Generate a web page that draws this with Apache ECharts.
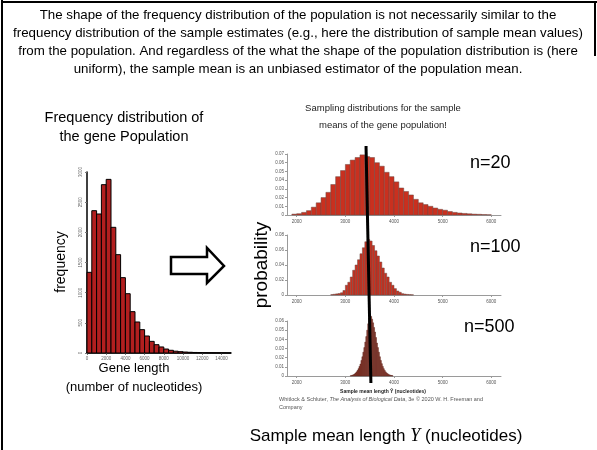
<!DOCTYPE html>
<html>
<head>
<meta charset="utf-8">
<script src="https://cdn.jsdelivr.net/npm/echarts@6/dist/echarts.min.js"></script>
<style>
  html, body { margin: 0; padding: 0; background: #fff; }
  #chart { width: 597px; height: 450px; }
</style>
</head>
<body>
<div id="chart"></div>
<script>
// population histogram: gene length, bins of 500 nucleotides starting at 0
const popBinWidth = 500;
const popCounts = [1337, 2359, 2304, 2790, 2878, 2083, 1630, 1249, 983, 685, 514, 387, 282, 193, 138,
  100, 66, 45, 30, 22, 16, 12, 9, 7, 5, 4, 3, 2, 2, 1];
const popXTicks = [0, 2000, 4000, 6000, 8000, 10000, 12000, 14000];

// sampling distributions of the mean
const n20Start = 1900, n20Width = 100;
const n20Probs = [0.001, 0.0015, 0.003, 0.005, 0.009, 0.014, 0.020, 0.026, 0.035, 0.044, 0.051,
  0.058, 0.063, 0.066, 0.069, 0.067, 0.066, 0.060, 0.056, 0.049, 0.044, 0.038, 0.031, 0.027,
  0.023, 0.018, 0.014, 0.012, 0.010, 0.008, 0.0065, 0.0055, 0.004, 0.003, 0.0023, 0.0018,
  0.0014, 0.001, 0.0008, 0.0005, 0.0003];

const n100Start = 2700, n100Width = 50;
const n100Probs = [0.0005, 0.001, 0.0015, 0.002, 0.003, 0.006, 0.013, 0.017, 0.024, 0.033, 0.040,
  0.047, 0.055, 0.063, 0.071, 0.074, 0.072, 0.066, 0.059, 0.052, 0.044, 0.036, 0.029, 0.024,
  0.017, 0.013, 0.0085, 0.0053, 0.0036, 0.0018, 0.0012, 0.0008, 0.0005, 0.0003];

const n500Start = 3100, n500Width = 20;
const n500Probs = [0.0003, 0.0006, 0.001, 0.0015, 0.0022, 0.0032, 0.0045, 0.006, 0.008, 0.0105,
  0.013, 0.017, 0.021, 0.026, 0.031, 0.037, 0.043, 0.050, 0.057, 0.063, 0.066, 0.065, 0.062,
  0.058, 0.053, 0.048, 0.042, 0.036, 0.031, 0.026, 0.021, 0.017, 0.0135, 0.0105, 0.008, 0.006,
  0.0045, 0.0033, 0.0024, 0.0017, 0.0012, 0.0008, 0.0005, 0.0003];

const sampleXTicks = [2000, 3000, 4000, 5000, 6000];
const populationMean = [3425, 3525]; // drawn line, top and bottom ends

const font = 'Liberation Sans, Arial, sans-serif';
const plain = v => String(v);

const toBins = (start, width, vals) => vals.map((v, i) => [start + i * width, v, width]);

function binRenderer(fill, stroke, lw) {
  return function (params, api) {
    const x0 = api.value(0), v = api.value(1), w = api.value(2);
    const p0 = api.coord([x0, 0]);
    const p1 = api.coord([x0 + w, v]);
    return {
      type: 'rect',
      shape: { x: p0[0], y: p1[1], width: p1[0] - p0[0], height: p0[1] - p1[1] },
      style: { fill: fill, stroke: stroke, lineWidth: lw }
    };
  };
}

function sampleX(gridIndex) {
  return {
    type: 'value', gridIndex: gridIndex, min: 1800, max: 6200,
    axisLine: { lineStyle: { color: '#9a9a9a', width: 1 } },
    axisTick: { show: true, length: 2, customValues: sampleXTicks, lineStyle: { color: '#9a9a9a' } },
    axisLabel: { customValues: sampleXTicks, formatter: plain, fontSize: 4.5, color: '#555', margin: 4, fontFamily: font },
    splitLine: { show: false }
  };
}

function sampleY(gridIndex, max, interval) {
  return {
    type: 'value', gridIndex: gridIndex, min: 0, max: max, interval: interval,
    axisLine: { show: true, lineStyle: { color: '#9a9a9a', width: 1 } },
    axisTick: { show: true, length: 2, lineStyle: { color: '#9a9a9a' } },
    axisLabel: { fontSize: 4.5, color: '#555', margin: 3, fontFamily: font },
    splitLine: { show: false }
  };
}

const chart = echarts.init(document.getElementById('chart'));

const option = {
  animation: false,
  backgroundColor: '#fff',
  grid: [
    { left: 87, top: 172, width: 144, height: 181 },
    { left: 287, top: 154, width: 214, height: 61 },
    { left: 287, top: 235, width: 214, height: 60 },
    { left: 287, top: 321, width: 214, height: 55 }
  ],
  xAxis: [
    {
      type: 'value', gridIndex: 0, min: 0, max: 15000,
      axisLine: { lineStyle: { color: '#000', width: 1.5 } },
      axisTick: { show: true, length: 2, customValues: popXTicks, lineStyle: { color: '#777' } },
      axisLabel: { customValues: popXTicks, formatter: plain, fontSize: 4.5, color: '#666', margin: 3, fontFamily: font },
      splitLine: { show: false }
    },
    sampleX(1), sampleX(2), sampleX(3)
  ],
  yAxis: [
    {
      type: 'value', gridIndex: 0, min: 0, max: 3000, interval: 500,
      axisLine: { show: true, lineStyle: { color: '#000', width: 1.5 } },
      axisTick: { show: true, length: 2, lineStyle: { color: '#777' } },
      axisLabel: { rotate: 90, formatter: plain, fontSize: 4.5, color: '#666', margin: 4, fontFamily: font },
      splitLine: { show: false }
    },
    sampleY(1, 0.07, 0.01), sampleY(2, 0.08, 0.02), sampleY(3, 0.06, 0.01)
  ],
  series: [
    {
      type: 'custom', xAxisIndex: 0, yAxisIndex: 0,
      renderItem: binRenderer('#b21f1f', '#000', 1),
      data: toBins(0, popBinWidth, popCounts)
    },
    {
      type: 'custom', xAxisIndex: 1, yAxisIndex: 1,
      renderItem: binRenderer('#c9301f', '#6b4a44', 0.5),
      data: toBins(n20Start, n20Width, n20Probs)
    },
    {
      type: 'custom', xAxisIndex: 2, yAxisIndex: 2,
      renderItem: binRenderer('#c9301f', '#6b4a44', 0.5),
      data: toBins(n100Start, n100Width, n100Probs)
    },
    {
      type: 'custom', xAxisIndex: 3, yAxisIndex: 3,
      renderItem: binRenderer('#9c2e1f', '#5a2a22', 0.5),
      data: toBins(n500Start, n500Width, n500Probs)
    }
  ]
};

chart.setOption(option);

// decorations and text that sit outside the plotting grids
const topX = chart.convertToPixel({ xAxisIndex: 1 }, populationMean[0]);
const botX = chart.convertToPixel({ xAxisIndex: 3 }, populationMean[1]);

chart.setOption({
  graphic: [
    // slide frame
    { type: 'line', shape: { x1: 2, y1: 0, x2: 2, y2: 450 }, style: { stroke: '#000', lineWidth: 2 } },
    { type: 'line', shape: { x1: 1, y1: 2, x2: 597, y2: 2 }, style: { stroke: '#000', lineWidth: 2 } },
    { type: 'line', shape: { x1: 595, y1: 1, x2: 595, y2: 56 }, style: { stroke: '#000', lineWidth: 2 } },
    {
      type: 'text', x: 298, y: 6,
      style: {
        text: 'The shape of the frequency distribution of the population is not necessarily similar to the\n' +
          'frequency distribution of the sample estimates (e.g., here the distribution of sample mean values)\n' +
          'from the population. And regardless of the what the shape of the population distribution is (here\n' +
          'uniform), the sample mean is an unbiased estimator of the population mean.',
        align: 'center', verticalAlign: 'top', fontSize: 13.3, lineHeight: 18, fontFamily: font, fill: '#000'
      }
    },
    {
      type: 'text', x: 124, y: 108,
      style: {
        text: 'Frequency distribution of\nthe gene Population', align: 'center', verticalAlign: 'top',
        fontSize: 14.5, lineHeight: 19, fontFamily: font, fill: '#000'
      }
    },
    {
      type: 'text', x: 61, y: 262, rotation: Math.PI / 2,
      style: { text: 'frequency', align: 'center', verticalAlign: 'middle', fontSize: 14, fontFamily: font, fill: '#000' }
    },
    {
      type: 'text', x: 134, y: 359,
      style: {
        text: 'Gene length\n(number of nucleotides)', align: 'center', verticalAlign: 'top',
        fontSize: 13, lineHeight: 19, fontFamily: font, fill: '#000'
      }
    },
    {
      type: 'polygon',
      shape: { points: [[171, 257], [207, 257], [207, 248], [224, 266], [207, 283], [207, 274], [171, 274]] },
      style: { fill: '#fff', stroke: '#000', lineWidth: 2.5 }
    },
    {
      type: 'text', x: 383, y: 100,
      style: {
        text: 'Sampling distributions for the sample\nmeans of the gene population!', align: 'center',
        verticalAlign: 'top', fontSize: 9.5, lineHeight: 17, fontFamily: font, fill: '#222'
      }
    },
    {
      type: 'text', x: 262, y: 265, rotation: Math.PI / 2,
      style: { text: 'probability', align: 'center', verticalAlign: 'middle', fontSize: 19, fontFamily: font, fill: '#000' }
    },
    { type: 'text', x: 470, y: 163, style: { text: 'n=20', verticalAlign: 'middle', fontSize: 18, fontFamily: font, fill: '#000' } },
    { type: 'text', x: 470, y: 247, style: { text: 'n=100', verticalAlign: 'middle', fontSize: 18, fontFamily: font, fill: '#000' } },
    { type: 'text', x: 464, y: 327, style: { text: 'n=500', verticalAlign: 'middle', fontSize: 18, fontFamily: font, fill: '#000' } },
    {
      type: 'text', x: 383, y: 392,
      style: { text: 'Sample mean length Ȳ (nucleotides)', align: 'center', verticalAlign: 'middle', fontSize: 5, fontWeight: 'bold', fontFamily: font, fill: '#222' }
    },
    {
      type: 'text', x: 279, y: 395,
      style: {
        text: '{a|Whitlock & Schluter, }{i|The Analysis of Biological Data}{a|, 3e © 2020 W. H. Freeman and}\n{a|Company}',
        verticalAlign: 'top', lineHeight: 8,
        rich: {
          a: { fontSize: 5.5, fontFamily: font, fill: '#555', lineHeight: 8 },
          i: { fontSize: 5.5, fontFamily: font, fontStyle: 'italic', fill: '#555', lineHeight: 8 }
        }
      }
    },
    {
      type: 'text', x: 386, y: 436,
      style: {
        text: '{a|Sample mean length }{y|Y}{a| (nucleotides)}', align: 'center', verticalAlign: 'middle',
        rich: {
          a: { fontSize: 17, fontFamily: font, fill: '#000' },
          y: { fontSize: 18, fontFamily: 'Liberation Serif, DejaVu Serif, serif', fontStyle: 'italic', fill: '#000' }
        }
      }
    },
    // population mean marker crossing all three sampling distributions
    { type: 'line', z: 100, shape: { x1: topX, y1: 146, x2: botX, y2: 383 }, style: { stroke: '#000', lineWidth: 3 } }
  ]
});

window.addEventListener('resize', () => chart.resize());
</script>
</body>
</html>
